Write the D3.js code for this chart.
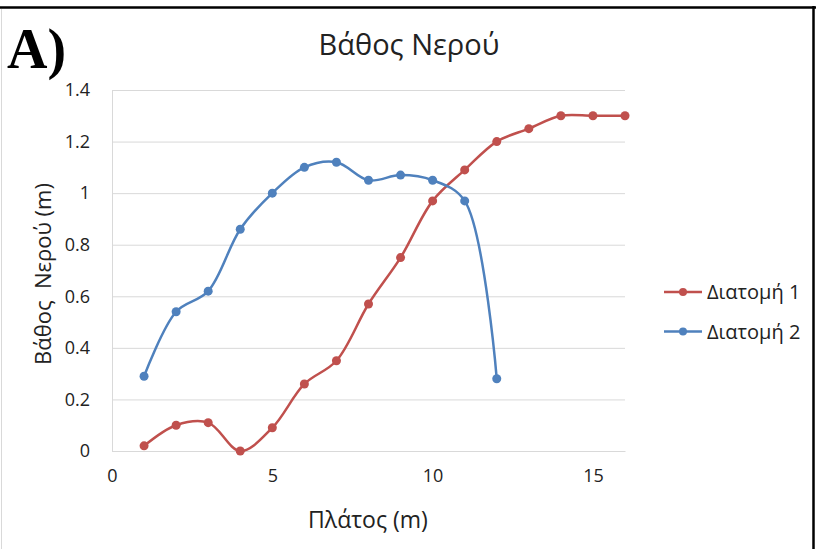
<!DOCTYPE html>
<html>
<head>
<meta charset="utf-8">
<script src="https://cdn.jsdelivr.net/npm/d3@7"></script>
<style>
  html, body { margin: 0; padding: 0; background: #fff; }
  svg { display: block; }
</style>
</head>
<body>
<svg id="chart" width="816" height="549"></svg>
<script>
// Cross-section widths (m) and water depths (m)
const xSection1 = [1, 2, 3, 4, 5, 6, 7, 8, 9, 10, 11, 12, 13, 14, 15, 16];
const depth1    = [0.02, 0.10, 0.11, 0.00, 0.09, 0.26, 0.35, 0.57, 0.75, 0.97, 1.09, 1.20, 1.25, 1.30, 1.30, 1.30];
const xSection2 = [1, 2, 3, 4, 5, 6, 7, 8, 9, 10, 11, 12];
const depth2    = [0.29, 0.54, 0.62, 0.86, 1.00, 1.10, 1.12, 1.05, 1.07, 1.05, 0.97, 0.28];

const seriesNames  = ["Διατομή 1", "Διατομή 2"];
const seriesColors = ["#C0504D", "#4F81BD"];
const xTicks = [0, 5, 10, 15];
const yTicks = [0, 0.2, 0.4, 0.6, 0.8, 1, 1.2, 1.4];

const title  = "Βάθος Νερού";
const xTitle = "Πλάτος (m)";
const yTitle = "Βάθος  Νερού (m)";
const panelLabel = "A)";

const sans = "'Open Sans', 'DejaVu Sans', sans-serif";
const textColor = "#222";

const svg = d3.select("#chart");

// Frame of the panel
svg.append("line").attr("x1", 0).attr("x2", 816).attr("y1", 7.5).attr("y2", 7.5)
  .attr("stroke", "#000").attr("stroke-width", 2.5);
svg.append("line").attr("x1", 813.5).attr("x2", 813.5).attr("y1", 6).attr("y2", 549)
  .attr("stroke", "#000").attr("stroke-width", 2.5);
svg.append("line").attr("x1", 1.5).attr("x2", 1.5).attr("y1", 9).attr("y2", 549)
  .attr("stroke", "#d9d9d9").attr("stroke-width", 1);

const plot = { left: 112, right: 625, top: 90, bottom: 451 };

const x = d3.scaleLinear().domain([0, 16]).range([plot.left, plot.right]);
const y = d3.scaleLinear().domain([0, 1.4]).range([plot.bottom, plot.top]);

// Y axis with horizontal gridlines
const yAxis = d3.axisLeft(y).tickValues(yTicks).tickSize(-(plot.right - plot.left))
  .tickPadding(22).tickFormat(d => String(+d.toFixed(1)));
const gy = svg.append("g").attr("transform", `translate(${plot.left},0)`).call(yAxis);
gy.select(".domain").attr("stroke", "#d9d9d9");
gy.selectAll(".tick line").attr("stroke", "#d9d9d9").attr("stroke-width", 1);
gy.selectAll(".tick text")
  .style("font-size", "18px").style("font-family", sans).style("fill", textColor);

// X axis
const xAxis = d3.axisBottom(x).tickValues(xTicks).tickSize(0).tickPadding(18);
const gx = svg.append("g").attr("transform", `translate(0,${plot.bottom})`).call(xAxis);
gx.select(".domain").attr("stroke", "#d9d9d9");
gx.selectAll(".tick text")
  .style("font-size", "18px").style("font-family", sans).style("fill", textColor);

// Series
const series = [
  { name: seriesNames[0], color: seriesColors[0], pts: xSection1.map((v, i) => [v, depth1[i]]) },
  { name: seriesNames[1], color: seriesColors[1], pts: xSection2.map((v, i) => [v, depth2[i]]) }
];

const line = d3.line().x(d => x(d[0])).y(d => y(d[1])).curve(d3.curveCatmullRom.alpha(0.5));

series.forEach(s => {
  svg.append("path").datum(s.pts)
    .attr("d", line).attr("fill", "none")
    .attr("stroke", s.color).attr("stroke-width", 2.5).attr("stroke-linejoin", "round");
  svg.append("g").selectAll("circle").data(s.pts).join("circle")
    .attr("cx", d => x(d[0])).attr("cy", d => y(d[1])).attr("r", 4.5)
    .attr("fill", s.color);
});

// Legend
const legend = svg.append("g").attr("transform", "translate(664,292)");
series.forEach((s, i) => {
  const g = legend.append("g").attr("transform", `translate(0,${i * 39.5})`);
  g.append("line").attr("x1", 0).attr("x2", 38).attr("y1", 0).attr("y2", 0)
    .attr("stroke", s.color).attr("stroke-width", 2.5);
  g.append("circle").attr("cx", 19).attr("cy", 0).attr("r", 4).attr("fill", s.color);
  g.append("text").attr("x", 43).attr("y", 0).attr("dy", "0.35em")
    .style("font-size", "20px").style("font-family", sans).style("fill", textColor)
    .text(s.name);
});

// Titles
svg.append("text").attr("x", 409).attr("y", 55).attr("text-anchor", "middle")
  .style("font-size", "29px").style("font-family", sans).style("fill", textColor)
  .text(title);
svg.append("text").attr("x", 368).attr("y", 528).attr("text-anchor", "middle")
  .style("font-size", "23px").style("font-family", sans).style("fill", textColor)
  .text(xTitle);
svg.append("text").attr("transform", "translate(51,274) rotate(-90)")
  .attr("text-anchor", "middle")
  .style("font-size", "22px").style("font-family", sans).style("fill", textColor)
  .style("white-space", "pre")
  .text(yTitle);

// Panel label
svg.append("text").attr("x", 7).attr("y", 68)
  .style("font-family", "'Liberation Serif', 'DejaVu Serif', serif")
  .style("font-weight", "bold").style("font-size", "56px").style("fill", "#000")
  .text(panelLabel);
</script>
</body>
</html>
